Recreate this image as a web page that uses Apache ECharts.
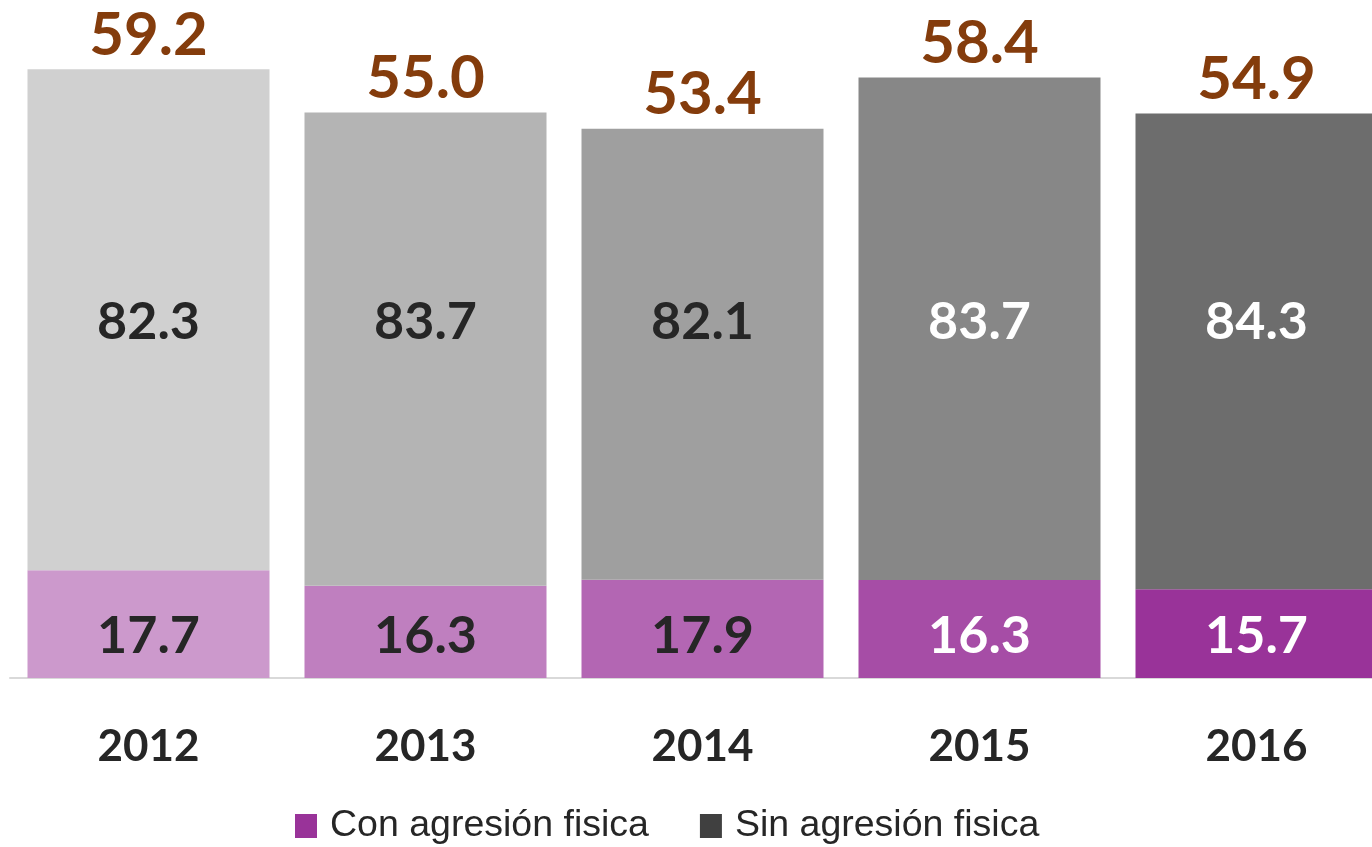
<!DOCTYPE html>
<html>
<head>
<meta charset="utf-8">
<script src="https://cdn.jsdelivr.net/npm/echarts@6/dist/echarts.min.js"></script>
<style>
    html, body { margin: 0; padding: 0; background: #ffffff; }
    #chart { width: 1372px; height: 847px; }
</style>
</head>
<body>
<div id="chart"></div>
<script>
    // datos
    const years = ['2012', '2013', '2014', '2015', '2016'];
    const totals = [59.2, 55.0, 53.4, 58.4, 54.9];
    const conShare = [17.7, 16.3, 17.9, 16.3, 15.7];
    const sinShare = [82.3, 83.7, 82.1, 83.7, 84.3];

    // colores por barra
    const conColors = ['#cc99cc', '#bf7fbf', '#b366b3', '#a64da6', '#993399'];
    const sinColors = ['#d0d0d0', '#b4b4b4', '#9f9f9f', '#878787', '#6d6d6d'];
    const labelColors = ['#262626', '#262626', '#262626', '#ffffff', '#ffffff'];

    const font = 'Lato, "Open Sans", sans-serif';

    // cada tramo es la parte proporcional del total
    const conData = years.map((y, i) => ({
        value: totals[i] * conShare[i] / 100,
        itemStyle: { color: conColors[i] },
        label: { color: labelColors[i] }
    }));
    const sinData = years.map((y, i) => ({
        value: totals[i] * sinShare[i] / 100,
        itemStyle: { color: sinColors[i] },
        label: { color: labelColors[i] }
    }));

    const chart = echarts.init(document.getElementById('chart'));
    chart.setOption({
        backgroundColor: '#ffffff',
        animation: false,
        grid: { left: 10, right: -23, top: 61, bottom: 169, outerBoundsMode: 'none' },
        legend: {
            left: 290,
            top: 802,
            itemWidth: 22,
            itemHeight: 24,
            itemGap: 51,
            icon: 'rect',
            data: [
                { name: 'Con agresión fisica', itemStyle: { color: '#993399' } },
                { name: 'Sin agresión fisica', itemStyle: { color: '#404040' } }
            ],
            textStyle: {
                fontFamily: '"Liberation Sans", Arial, sans-serif',
                fontSize: 37.5,
                color: '#262626',
                padding: [0, 0, 0, 8]
            }
        },
        xAxis: {
            type: 'category',
            data: years,
            axisTick: { show: false },
            axisLine: { lineStyle: { color: '#d9d9d9', width: 2 } },
            axisLabel: {
                margin: 47,
                color: '#262626',
                fontFamily: font,
                fontWeight: 'bold',
                fontSize: 44
            }
        },
        yAxis: {
            type: 'value',
            min: 0,
            max: 60,
            show: false,
            splitLine: { show: false }
        },
        series: [
            {
                name: 'Con agresión fisica',
                type: 'bar',
                stack: 'total',
                barWidth: 242,
                data: conData,
                label: {
                    show: true,
                    position: 'inside',
                    fontFamily: font,
                    fontWeight: 'bold',
                    fontSize: 52,
                    formatter: p => conShare[p.dataIndex].toFixed(1)
                },
                labelLayout: { y: 636, align: 'center', verticalAlign: 'middle' }
            },
            {
                name: 'Sin agresión fisica',
                type: 'bar',
                stack: 'total',
                barWidth: 242,
                data: sinData,
                label: {
                    show: true,
                    position: 'inside',
                    fontFamily: font,
                    fontWeight: 'bold',
                    fontSize: 52,
                    formatter: p => sinShare[p.dataIndex].toFixed(1)
                },
                labelLayout: { y: 322, align: 'center', verticalAlign: 'middle' }
            },
            {
                // solo para la etiqueta del total encima de la barra
                name: 'Total',
                type: 'bar',
                stack: 'total',
                barWidth: 242,
                data: years.map(() => 0),
                itemStyle: { color: 'transparent' },
                label: {
                    show: true,
                    position: 'top',
                    distance: 4,
                    color: '#843c0c',
                    fontFamily: font,
                    fontWeight: 'bold',
                    fontSize: 60,
                    formatter: p => totals[p.dataIndex].toFixed(1)
                }
            }
        ]
    });
</script>
</body>
</html>
